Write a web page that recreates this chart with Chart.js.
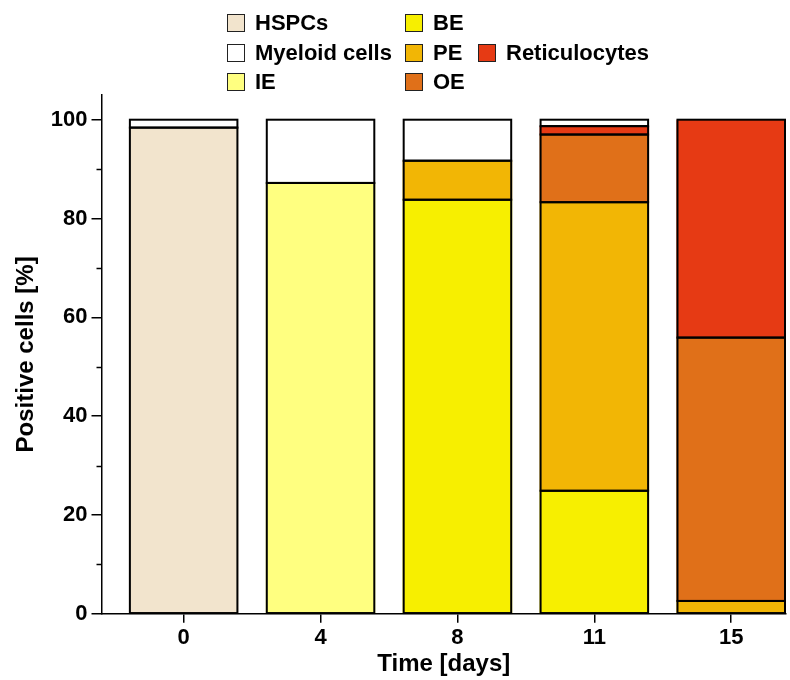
<!DOCTYPE html>
<html>
<head>
<meta charset="utf-8">
<script src="https://cdn.jsdelivr.net/npm/chart.js@4.4.1/dist/chart.umd.min.js"></script>
<style>
  body { margin: 0; background: #fff; }
  #wrap { position: relative; width: 790px; height: 680px; }
  #legend { position: absolute; left: 0; top: 0; font-family: "Liberation Sans", Arial, sans-serif; font-weight: bold; font-size: 22px; color: #000; }
  .item { position: absolute; display: flex; align-items: center; white-space: nowrap; height: 26px; }
  .box { width: 16px; height: 16px; border: 1.5px solid #222; margin-right: 10px; }
</style>
</head>
<body>
<div id="wrap">
  <canvas id="barChart" width="790" height="680"></canvas>
  <div id="legend"></div>
</div>
<script>

var days = ['0', '4', '8', '11', '15']
var names = ['HSPCs', 'IE', 'BE', 'PE', 'OE', 'Reticulocytes', 'Myeloid cells']
var colors = ['#F2E4CD', '#FFFF80', '#F7EF00', '#F2B605', '#E07019', '#E63A14', '#FFFFFF']

// values per population, bottom of the stack first
var hspcs   = [98.4, null, null, null, null]
var ie      = [null, 87.2, null, null, null]
var be      = [null, null, 83.8, 24.9, null]
var pe      = [null, null, 7.9, 58.4, 2.6]
var oe      = [null, null, null, 13.7, 53.3]
var retic   = [null, null, null, 1.7, 44.1]
var myeloid = [1.6, 12.8, 8.3, 1.3, null]

var yTicks = [0, 20, 40, 60, 80, 100]
var yMinor = [10, 30, 50, 70, 90]

var series = [hspcs, ie, be, pe, oe, retic, myeloid]

var datasets = series.map(function (vals, k) {
    return {
        label: names[k],
        data: vals.map(function (v, i) { return { x: i, y: v } })
                  .filter(function (p) { return p.y !== null }),
        backgroundColor: colors[k],
        borderWidth: 0,
        inflateAmount: 0,
        categoryPercentage: 0.8,
        barPercentage: 1.0
    }
})

// black outline round every bar segment, centred on its edges
var outlines = {
    id: 'outlines',
    afterDatasetsDraw: function (chart) {
        var c = chart.ctx
        c.save()
        c.strokeStyle = '#000'
        c.lineWidth = 2
        chart.data.datasets.forEach(function (ds, k) {
            chart.getDatasetMeta(k).data.forEach(function (bar) {
                var p = bar.getProps(['x', 'y', 'base', 'width'], true)
                var top = Math.min(p.y, p.base), h = Math.abs(p.base - p.y)
                c.strokeRect(p.x - p.width / 2 + 1, top, p.width - 2, h)
            })
        })
        c.restore()
    }
}

// short minor ticks on the y axis
var minorTicks = {
    id: 'minorTicks',
    afterDraw: function (chart) {
        var y = chart.scales.y
        var c = chart.ctx
        c.save()
        c.strokeStyle = '#000'
        c.lineWidth = 1.5
        yMinor.forEach(function (v) {
            var py = Math.round(y.getPixelForValue(v)) + 0.5
            c.beginPath()
            c.moveTo(y.right - 5, py)
            c.lineTo(y.right, py)
            c.stroke()
        })
        c.restore()
    }
}

Chart.defaults.font.family = '"Liberation Sans", Arial, sans-serif'
Chart.defaults.font.weight = 'bold'
Chart.defaults.color = '#000'

var chart = new Chart(document.getElementById('barChart'), {
    type: 'bar',
    data: { datasets: datasets },
    plugins: [outlines, minorTicks],
    options: {
        responsive: false,
        animation: false,
        layout: { padding: { top: 95, right: 4, left: 12, bottom: 1 } },
        plugins: {
            legend: { display: false },
            tooltip: { enabled: false }
        },
        scales: {
            x: {
                type: 'linear',
                stacked: true,
                offset: false,
                min: -0.6,
                max: 4.4,
                afterBuildTicks: function (s) { s.ticks = days.map(function (d, i) { return { value: i } }) },
                ticks: {
                    font: { size: 22 },
                    padding: 2,
                    callback: function (v) { return days[v] }
                },
                grid: { offset: false, drawOnChartArea: false, tickLength: 9, tickColor: '#000', lineWidth: 1.5 },
                border: { color: '#000', width: 1.5 },
                title: { display: true, text: 'Time [days]', font: { size: 24 }, padding: { top: -3, bottom: 0 } }
            },
            y: {
                stacked: true,
                min: 0,
                max: 105,
                afterBuildTicks: function (s) { s.ticks = yTicks.map(function (v) { return { value: v } }) },
                ticks: { font: { size: 22 }, padding: 4 },
                grid: { drawOnChartArea: false, tickLength: 10, tickColor: '#000', lineWidth: 1.5 },
                border: { color: '#000', width: 1.5 },
                title: { display: true, text: 'Positive cells [%]', font: { size: 24 }, padding: { top: 0, bottom: 6 } }
            }
        }
    }
})

// legend laid out in columns like the original figure
var legendCols = [
    { left: 227, items: ['HSPCs', 'Myeloid cells', 'IE'], rows: [0, 1, 2] },
    { left: 405, items: ['BE', 'PE', 'OE'], rows: [0, 1, 2] },
    { left: 478, items: ['Reticulocytes'], rows: [1] }
]
var legend = document.getElementById('legend')
legendCols.forEach(function (col) {
    col.items.forEach(function (name, j) {
        var el = document.createElement('div')
        el.className = 'item'
        el.style.left = col.left + 'px'
        el.style.top = (10 + col.rows[j] * 29.5) + 'px'
        var box = document.createElement('span')
        box.className = 'box'
        box.style.background = colors[names.indexOf(name)]
        el.appendChild(box)
        el.appendChild(document.createTextNode(name))
        legend.appendChild(el)
    })
})

</script>
</body>
</html>
